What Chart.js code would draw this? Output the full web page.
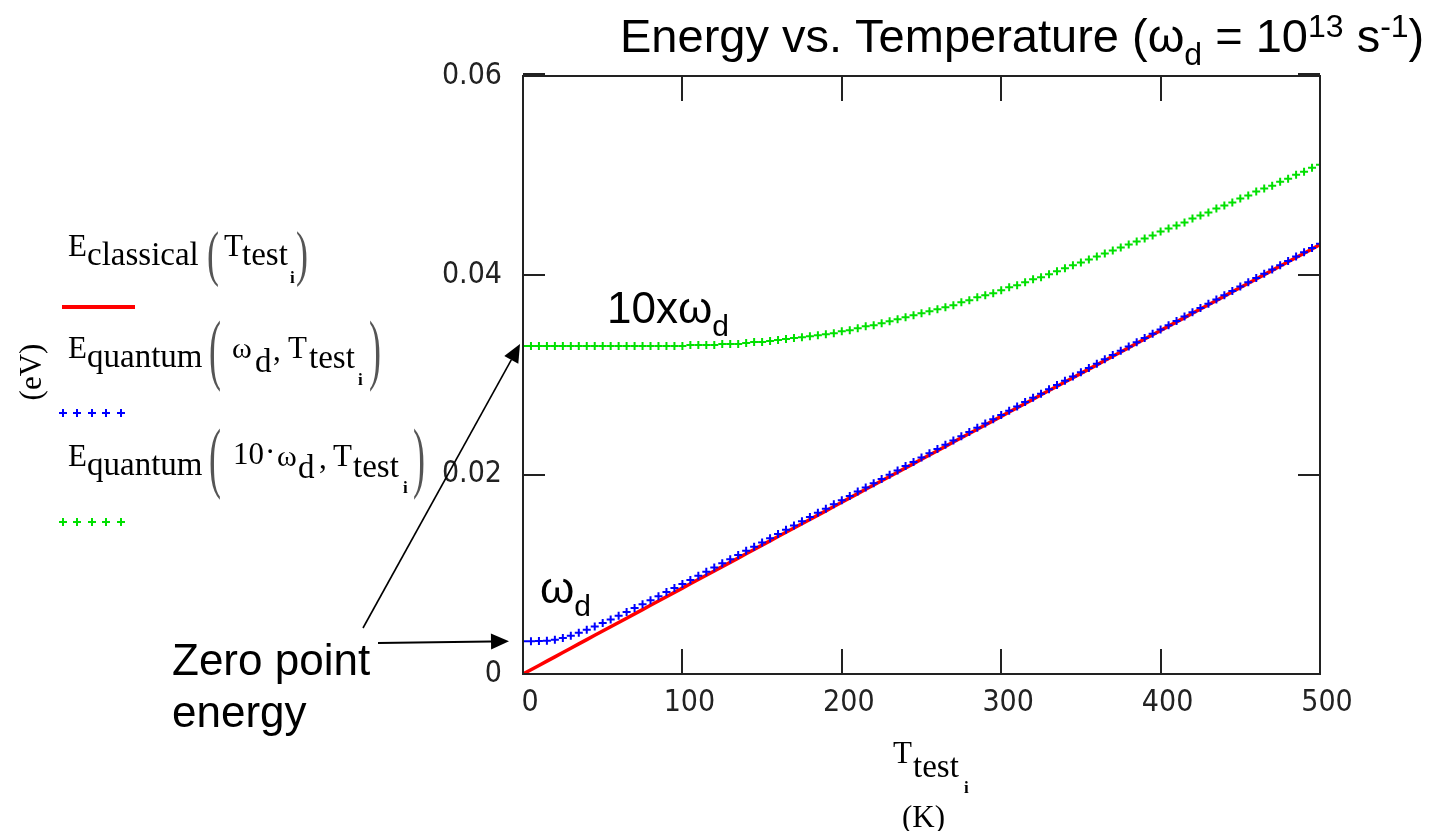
<!DOCTYPE html>
<html>
<head>
<meta charset="utf-8">
<script src="https://cdn.jsdelivr.net/npm/chart.js@4.4.1/dist/chart.umd.min.js"></script>
<style>
  html, body { margin: 0; padding: 0; background: #fff; }
  #wrap { width: 1429px; height: 831px; position: relative; }
</style>
</head>
<body>
<div id="wrap"><canvas id="energyChart"></canvas></div>
<script>
// data (T in K, energies in eV)
const temps = [0,5,10,15,20,25,30,35,40,45,50,55,60,65,70,75,80,85,90,95,
  100,105,110,115,120,125,130,135,140,145,150,155,160,165,170,175,180,185,190,195,
  200,205,210,215,220,225,230,235,240,245,250,255,260,265,270,275,280,285,290,295,
  300,305,310,315,320,325,330,335,340,345,350,355,360,365,370,375,380,385,390,395,
  400,405,410,415,420,425,430,435,440,445,450,455,460,465,470,475,480,485,490,495,500];

const eClassical = [0,0.00043,0.00086,0.00129,0.00172,0.00215,0.00259,0.00302,0.00345,0.00388,
  0.00431,0.00474,0.00517,0.0056,0.00603,0.00646,0.00689,0.00732,0.00776,0.00819,
  0.00862,0.00905,0.00948,0.00991,0.01034,0.01077,0.0112,0.01163,0.01206,0.01249,
  0.01293,0.01336,0.01379,0.01422,0.01465,0.01508,0.01551,0.01594,0.01637,0.0168,
  0.01723,0.01767,0.0181,0.01853,0.01896,0.01939,0.01982,0.02025,0.02068,0.02111,
  0.02154,0.02197,0.0224,0.02284,0.02327,0.0237,0.02413,0.02456,0.02499,0.02542,
  0.02585,0.02628,0.02671,0.02714,0.02757,0.02801,0.02844,0.02887,0.0293,0.02973,
  0.03016,0.03059,0.03102,0.03145,0.03188,0.03231,0.03274,0.03318,0.03361,0.03404,
  0.03447,0.0349,0.03533,0.03576,0.03619,0.03662,0.03705,0.03748,0.03791,0.03835,
  0.03878,0.03921,0.03964,0.04007,0.0405,0.04093,0.04136,0.04179,0.04222,0.04265,0.04309];

const eQuantum = [0.00329,0.00329,0.0033,0.00333,0.00344,0.00362,0.00385,0.00413,0.00444,0.00477,
  0.00511,0.00548,0.00585,0.00623,0.00662,0.00701,0.00741,0.00781,0.00822,0.00862,
  0.00903,0.00944,0.00986,0.01027,0.01069,0.0111,0.01152,0.01194,0.01236,0.01278,
  0.0132,0.01362,0.01405,0.01447,0.01489,0.01532,0.01574,0.01617,0.01659,0.01702,
  0.01744,0.01787,0.0183,0.01872,0.01915,0.01957,0.02,0.02043,0.02086,0.02128,
  0.02171,0.02214,0.02257,0.02299,0.02342,0.02385,0.02428,0.02471,0.02513,0.02556,
  0.02599,0.02642,0.02685,0.02728,0.02771,0.02813,0.02856,0.02899,0.02942,0.02985,
  0.03028,0.03071,0.03114,0.03157,0.032,0.03243,0.03285,0.03328,0.03371,0.03414,
  0.03457,0.035,0.03543,0.03586,0.03629,0.03672,0.03715,0.03758,0.03801,0.03844,
  0.03887,0.0393,0.03973,0.04016,0.04059,0.04102,0.04145,0.04188,0.04231,0.04274,0.04317];

const eQuantum10 = [0.0329,0.0329,0.0329,0.0329,0.0329,0.0329,0.0329,0.0329,0.0329,0.0329,
  0.0329,0.0329,0.0329,0.0329,0.0329,0.0329,0.0329,0.0329,0.0329,0.0329,
  0.0329,0.033,0.033,0.033,0.033,0.0331,0.0331,0.0331,0.0332,0.0333,
  0.0333,0.0334,0.0335,0.0336,0.0337,0.0338,0.0339,0.034,0.0341,0.0342,
  0.0344,0.0345,0.0347,0.0349,0.035,0.0352,0.0354,0.0356,0.0358,0.036,
  0.0362,0.0364,0.0366,0.0368,0.037,0.0373,0.0375,0.0378,0.038,0.0382,
  0.0385,0.0388,0.039,0.0393,0.0396,0.0398,0.0401,0.0404,0.0407,0.041,
  0.0413,0.0416,0.0419,0.0422,0.0425,0.0428,0.0431,0.0434,0.0437,0.044,
  0.0444,0.0447,0.045,0.0453,0.0457,0.046,0.0463,0.0467,0.047,0.0473,
  0.0477,0.048,0.0484,0.0487,0.049,0.0494,0.0497,0.0501,0.0504,0.0508,0.0511];

const xTicks = [0, 100, 200, 300, 400, 500];
const yTicks = [0, 0.02, 0.04, 0.06];

const toPoints = arr => temps.map((t, i) => ({ x: t, y: arr[i] }));

const SANS = '"Liberation Sans", Arial, sans-serif';
const SERIF = '"Liberation Serif", "Times New Roman", serif';
const TICKFONT = '"Liberation Sans Narrow", "DejaVu Sans Condensed", sans-serif';

// draw a tall thin bracket like Mathcad does
function bracket(ctx, ch, x, top, bottom) {
  ctx.save();
  ctx.font = '36px ' + SERIF;
  ctx.fillStyle = '#555';
  const h = bottom - top;
  ctx.translate(x, top);
  ctx.scale(1, h / 34);
  ctx.textBaseline = 'top';
  ctx.fillText(ch, 0, -2);
  ctx.restore();
}

function txt(ctx, s, x, y, font) {
  ctx.font = font;
  ctx.fillText(s, x, y);
  return x + ctx.measureText(s).width;
}

function arrow(ctx, x1, y1, x2, y2) {
  const a = Math.atan2(y2 - y1, x2 - x1);
  const len = 18, half = 8;
  const bx = x2 - len * Math.cos(a), by = y2 - len * Math.sin(a);
  ctx.beginPath();
  ctx.moveTo(x1, y1);
  ctx.lineTo(bx, by);
  ctx.stroke();
  ctx.beginPath();
  ctx.moveTo(x2, y2);
  ctx.lineTo(bx + half * Math.sin(a), by - half * Math.cos(a));
  ctx.lineTo(bx - half * Math.sin(a), by + half * Math.cos(a));
  ctx.closePath();
  ctx.fill();
}

const frameAndText = {
  id: 'frameAndText',
  afterDatasetsDraw(chart) {
    const ctx = chart.ctx;
    const a = chart.chartArea;
    const xs = chart.scales.x, ys = chart.scales.y;
    ctx.save();
    // box + inward ticks
    ctx.strokeStyle = '#222';
    ctx.lineWidth = 2;
    ctx.strokeRect(a.left, a.top, a.right - a.left, a.bottom - a.top);
    xTicks.forEach(v => {
      const px = Math.round(xs.getPixelForValue(v));
      ctx.beginPath();
      ctx.moveTo(px, a.bottom); ctx.lineTo(px, a.bottom - 25);
      ctx.moveTo(px, a.top); ctx.lineTo(px, a.top + 25);
      ctx.stroke();
    });
    yTicks.forEach(v => {
      const py = Math.round(ys.getPixelForValue(v));
      ctx.lineWidth = v === 0.06 ? 4 : 2;
      const off = v === 0.06 ? -1 : 0;
      ctx.beginPath();
      ctx.moveTo(a.left, py + off); ctx.lineTo(a.left + 22, py + off);
      ctx.moveTo(a.right, py + off); ctx.lineTo(a.right - 22, py + off);
      ctx.stroke();
    });
    ctx.restore();
  },
  afterDraw(chart) {
    const ctx = chart.ctx;
    const xs = chart.scales.x, ys = chart.scales.y;
    ctx.save();
    ctx.fillStyle = '#000';
    ctx.textBaseline = 'alphabetic';

    // title
    const big = '47px ' + SANS, small = '32px ' + SANS;
    let x = 620;
    x = txt(ctx, 'Energy vs. Temperature (', x, 52, big);
    x = txt(ctx, 'ω', x, 52, big);
    x = txt(ctx, 'd', x, 65, small);
    x = txt(ctx, ' = 10', x, 52, big);
    x = txt(ctx, '13', x, 37, small);
    x = txt(ctx, ' s', x, 52, big);
    x = txt(ctx, '-1', x, 37, small);
    txt(ctx, ')', x, 52, big);

    // annotations
    x = txt(ctx, '10x', 607, 323, '44px ' + SANS);
    x = txt(ctx, 'ω', x, 323, '44px ' + SANS);
    txt(ctx, 'd', x, 336, '30px ' + SANS);

    x = txt(ctx, 'ω', 540, 603, '44px ' + SANS);
    txt(ctx, 'd', x, 616, '30px ' + SANS);

    txt(ctx, 'Zero point', 172, 675, '44px ' + SANS);
    txt(ctx, 'energy', 172, 727, '44px ' + SANS);

    // arrows to the zero point energies
    ctx.strokeStyle = '#000';
    ctx.lineWidth = 2;
    const x0 = xs.getPixelForValue(0);
    arrow(ctx, 378, 643, x0 - 14, ys.getPixelForValue(eQuantum[0]));
    ctx.lineWidth = 1.6;
    arrow(ctx, 363, 628, x0 - 3, ys.getPixelForValue(eQuantum10[0]) - 2);

    // legend (Mathcad style)
    const S = '31px ' + SERIF, SUB = '33px ' + SERIF, I = 'bold 17px ' + SERIF;
    txt(ctx, 'E', 68, 256, S); txt(ctx, 'classical', 87, 265, SUB);
    bracket(ctx, '(', 207, 231, 288);
    txt(ctx, 'T', 224, 256, S); txt(ctx, 'test', 242, 265, SUB); txt(ctx, 'i', 290, 283, I);
    bracket(ctx, ')', 296, 231, 288);

    txt(ctx, 'E', 68, 358, S); txt(ctx, 'quantum', 87, 367, SUB);
    bracket(ctx, '(', 209, 320, 394);
    txt(ctx, 'ω', 232, 358, '30px ' + SERIF); txt(ctx, 'd', 255, 372, SUB);
    txt(ctx, ',', 273, 360, S);
    txt(ctx, 'T', 288, 358, S); txt(ctx, 'test', 309, 368, SUB); txt(ctx, 'i', 358, 385, I);
    bracket(ctx, ')', 369, 320, 394);

    txt(ctx, 'E', 68, 466, S); txt(ctx, 'quantum', 87, 475, SUB);
    bracket(ctx, '(', 209, 428, 502);
    txt(ctx, '10', 233, 464, '31px ' + SERIF);
    txt(ctx, '·', 265, 462, S);
    txt(ctx, 'ω', 277, 466, '30px ' + SERIF); txt(ctx, 'd', 298, 478, SUB);
    txt(ctx, ',', 319, 468, S);
    txt(ctx, 'T', 333, 466, S); txt(ctx, 'test', 353, 477, SUB); txt(ctx, 'i', 403, 493, I);
    bracket(ctx, ')', 413, 428, 502);

    // legend samples
    ctx.strokeStyle = '#ff0000';
    ctx.lineWidth = 4;
    ctx.beginPath(); ctx.moveTo(62, 307); ctx.lineTo(135, 307); ctx.stroke();
    [63, 77, 92, 106, 121].forEach(cx => {
      [['#0000ff', 413], ['#00e000', 522]].forEach(([c, cy]) => {
        ctx.strokeStyle = c; ctx.lineWidth = 2;
        ctx.beginPath();
        ctx.moveTo(cx - 4, cy); ctx.lineTo(cx + 4, cy);
        ctx.moveTo(cx, cy - 4); ctx.lineTo(cx, cy + 4);
        ctx.stroke();
      });
    });

    // axis titles
    ctx.save();
    ctx.translate(31, 372);
    ctx.rotate(-Math.PI / 2);
    ctx.textAlign = 'center';
    txt(ctx, '(eV)', 0, 10, S);
    ctx.restore();
    txt(ctx, 'T', 893, 763, S); txt(ctx, 'test', 913, 777, SUB); txt(ctx, 'i', 964, 793, I);
    txt(ctx, '(K)', 902, 827, S);
    ctx.restore();
  }
};

new Chart(document.getElementById('energyChart'), {
  type: 'scatter',
  data: {
    datasets: [
      {
        label: 'E_quantum(ωd, T)',
        data: toPoints(eQuantum),
        showLine: false,
        pointStyle: 'cross',
        pointRadius: 4,
        pointBorderWidth: 2,
        pointBorderColor: '#0000ff',
        order: 0
      },
      {
        label: 'E_classical(T)',
        data: toPoints(eClassical),
        showLine: true,
        borderColor: '#ff0000',
        borderWidth: 3.5,
        pointRadius: 0,
        order: 1
      },
      {
        label: 'E_quantum(10ωd, T)',
        data: toPoints(eQuantum10),
        showLine: false,
        pointStyle: 'cross',
        pointRadius: 4,
        pointBorderWidth: 2,
        pointBorderColor: '#00e000',
        order: 2
      }
    ]
  },
  options: {
    responsive: true,
    maintainAspectRatio: false,
    animation: false,
    layout: { padding: { top: 76, right: 109, left: 0, bottom: 0 } },
    plugins: { legend: { display: false }, tooltip: { enabled: false } },
    scales: {
      x: {
        type: 'linear',
        min: 0,
        max: 500,
        afterFit: s => { s.height = 157; },
        afterBuildTicks: s => { s.ticks = xTicks.map(v => ({ value: v })); },
        ticks: {
          color: '#222',
          padding: 3,
          labelOffset: 7,
          font: { family: TICKFONT, size: 30 }
        },
        grid: { display: false },
        border: { display: false }
      },
      y: {
        min: 0,
        max: 0.06,
        afterFit: s => { s.width = 523; },
        afterBuildTicks: s => { s.ticks = yTicks.map(v => ({ value: v })); },
        ticks: {
          color: '#222',
          padding: 13,
          font: { family: TICKFONT, size: 30 },
          callback: v => (v === 0 ? '0' : v.toFixed(2))
        },
        grid: { display: false },
        border: { display: false }
      }
    }
  },
  plugins: [frameAndText]
});
</script>
</body>
</html>
